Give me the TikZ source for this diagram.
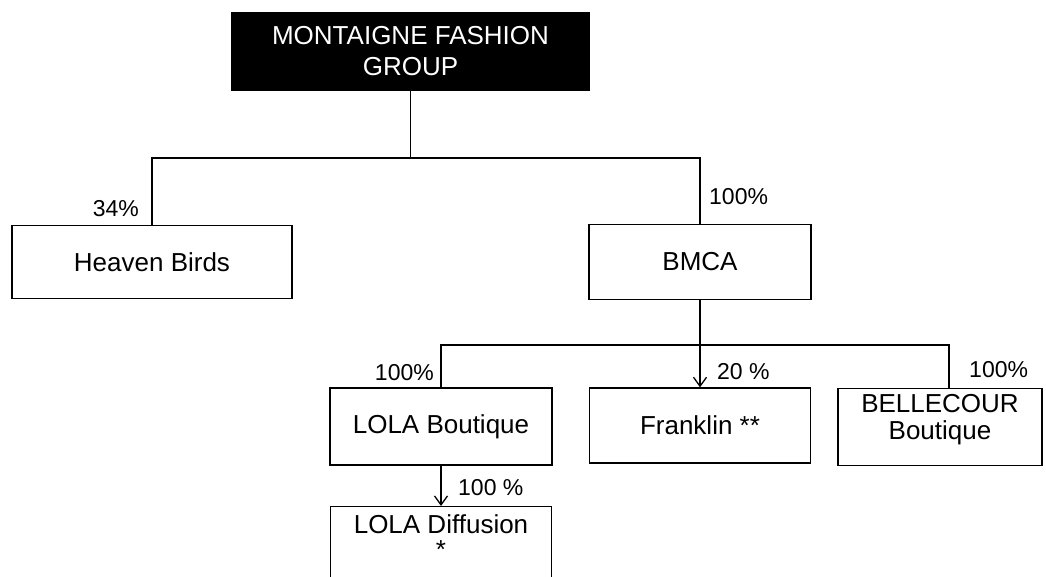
\documentclass[tikz,border=0pt]{standalone}
\usepackage{fontspec}
\setmainfont{Liberation Sans}
\usetikzlibrary{arrows.meta,positioning}
\definecolor{OrgInk}{HTML}{000000}

\tikzset{
  orgbox/.style={draw=OrgInk, line width=1.3pt, fill=white, align=center,
    inner sep=0pt, font=\fontsize{26}{30}\selectfont},
  pctlabel/.style={font=\fontsize{23}{26}\selectfont, inner sep=0pt},
  orgline/.style={draw=OrgInk, line width=1.3pt},
  orgarrow/.style={orgline, -{Straight Barb[length=9pt,width=13pt]}}
}

\begin{document}
\begin{tikzpicture}[x=1pt,y=-1pt]
\clip (0,0) rectangle (1046,577);
% holding
\node[orgbox, fill=OrgInk, text=white, minimum width=357pt, minimum height=77pt]
  (mfg) at (410.5,51.5) {MONTAIGNE FASHION\\[1pt]GROUP};
% first level
\node[orgbox, minimum width=280pt, minimum height=73pt] (hb) at (152,262) {Heaven Birds};
\node[orgbox, minimum width=222pt, minimum height=75pt] (bmca) at (700,262) {BMCA};
% second level
\node[orgbox, minimum width=222pt, minimum height=77pt] (lb) at (441,426.5) {LOLA Boutique};
\node[orgbox, minimum width=221pt, minimum height=75pt] (fr) at (700,425.5) {Franklin **};
\node[orgbox, anchor=north, minimum width=204pt, inner ysep=6pt, text depth=20pt]
  (bc) at (940,388) {BELLECOUR\\[-3pt]Boutique};
% third level
\node[orgbox, anchor=north, minimum width=221pt, inner ysep=8pt, text depth=50pt]
  (ld) at (441,506) {LOLA Diffusion\\[-5pt]*};

\coordinate (hub1) at (410.5,158);
\coordinate (hub2) at (700,345);
\coordinate (bcin) at (949,388);

\draw[orgline] (mfg.south) -- (hub1);
\draw[orgline] (hb.north) |- (hub1) -| (bmca.north);
\draw[orgline] (lb.north) |- (hub2) -| (bcin);
\draw[orgarrow] (bmca.south) -- (fr.north);
\draw[orgarrow] (lb.south) -- (ld.north);

% shares
\node[pctlabel, anchor=base east] (p34) at (139,217) {34\%};
\node[pctlabel, anchor=base west] (pbmca) at (709,205) {100\%};
\node[pctlabel, anchor=base east] (plb) at (434,380) {100\%};
\node[pctlabel, anchor=base west] (pfr) at (717,379) {20 \%};
\node[pctlabel, anchor=base west] (pbc) at (969,377) {100\%};
\node[pctlabel, anchor=base west] (pld) at (458,495) {100 \%};
\end{tikzpicture}
\end{document}
